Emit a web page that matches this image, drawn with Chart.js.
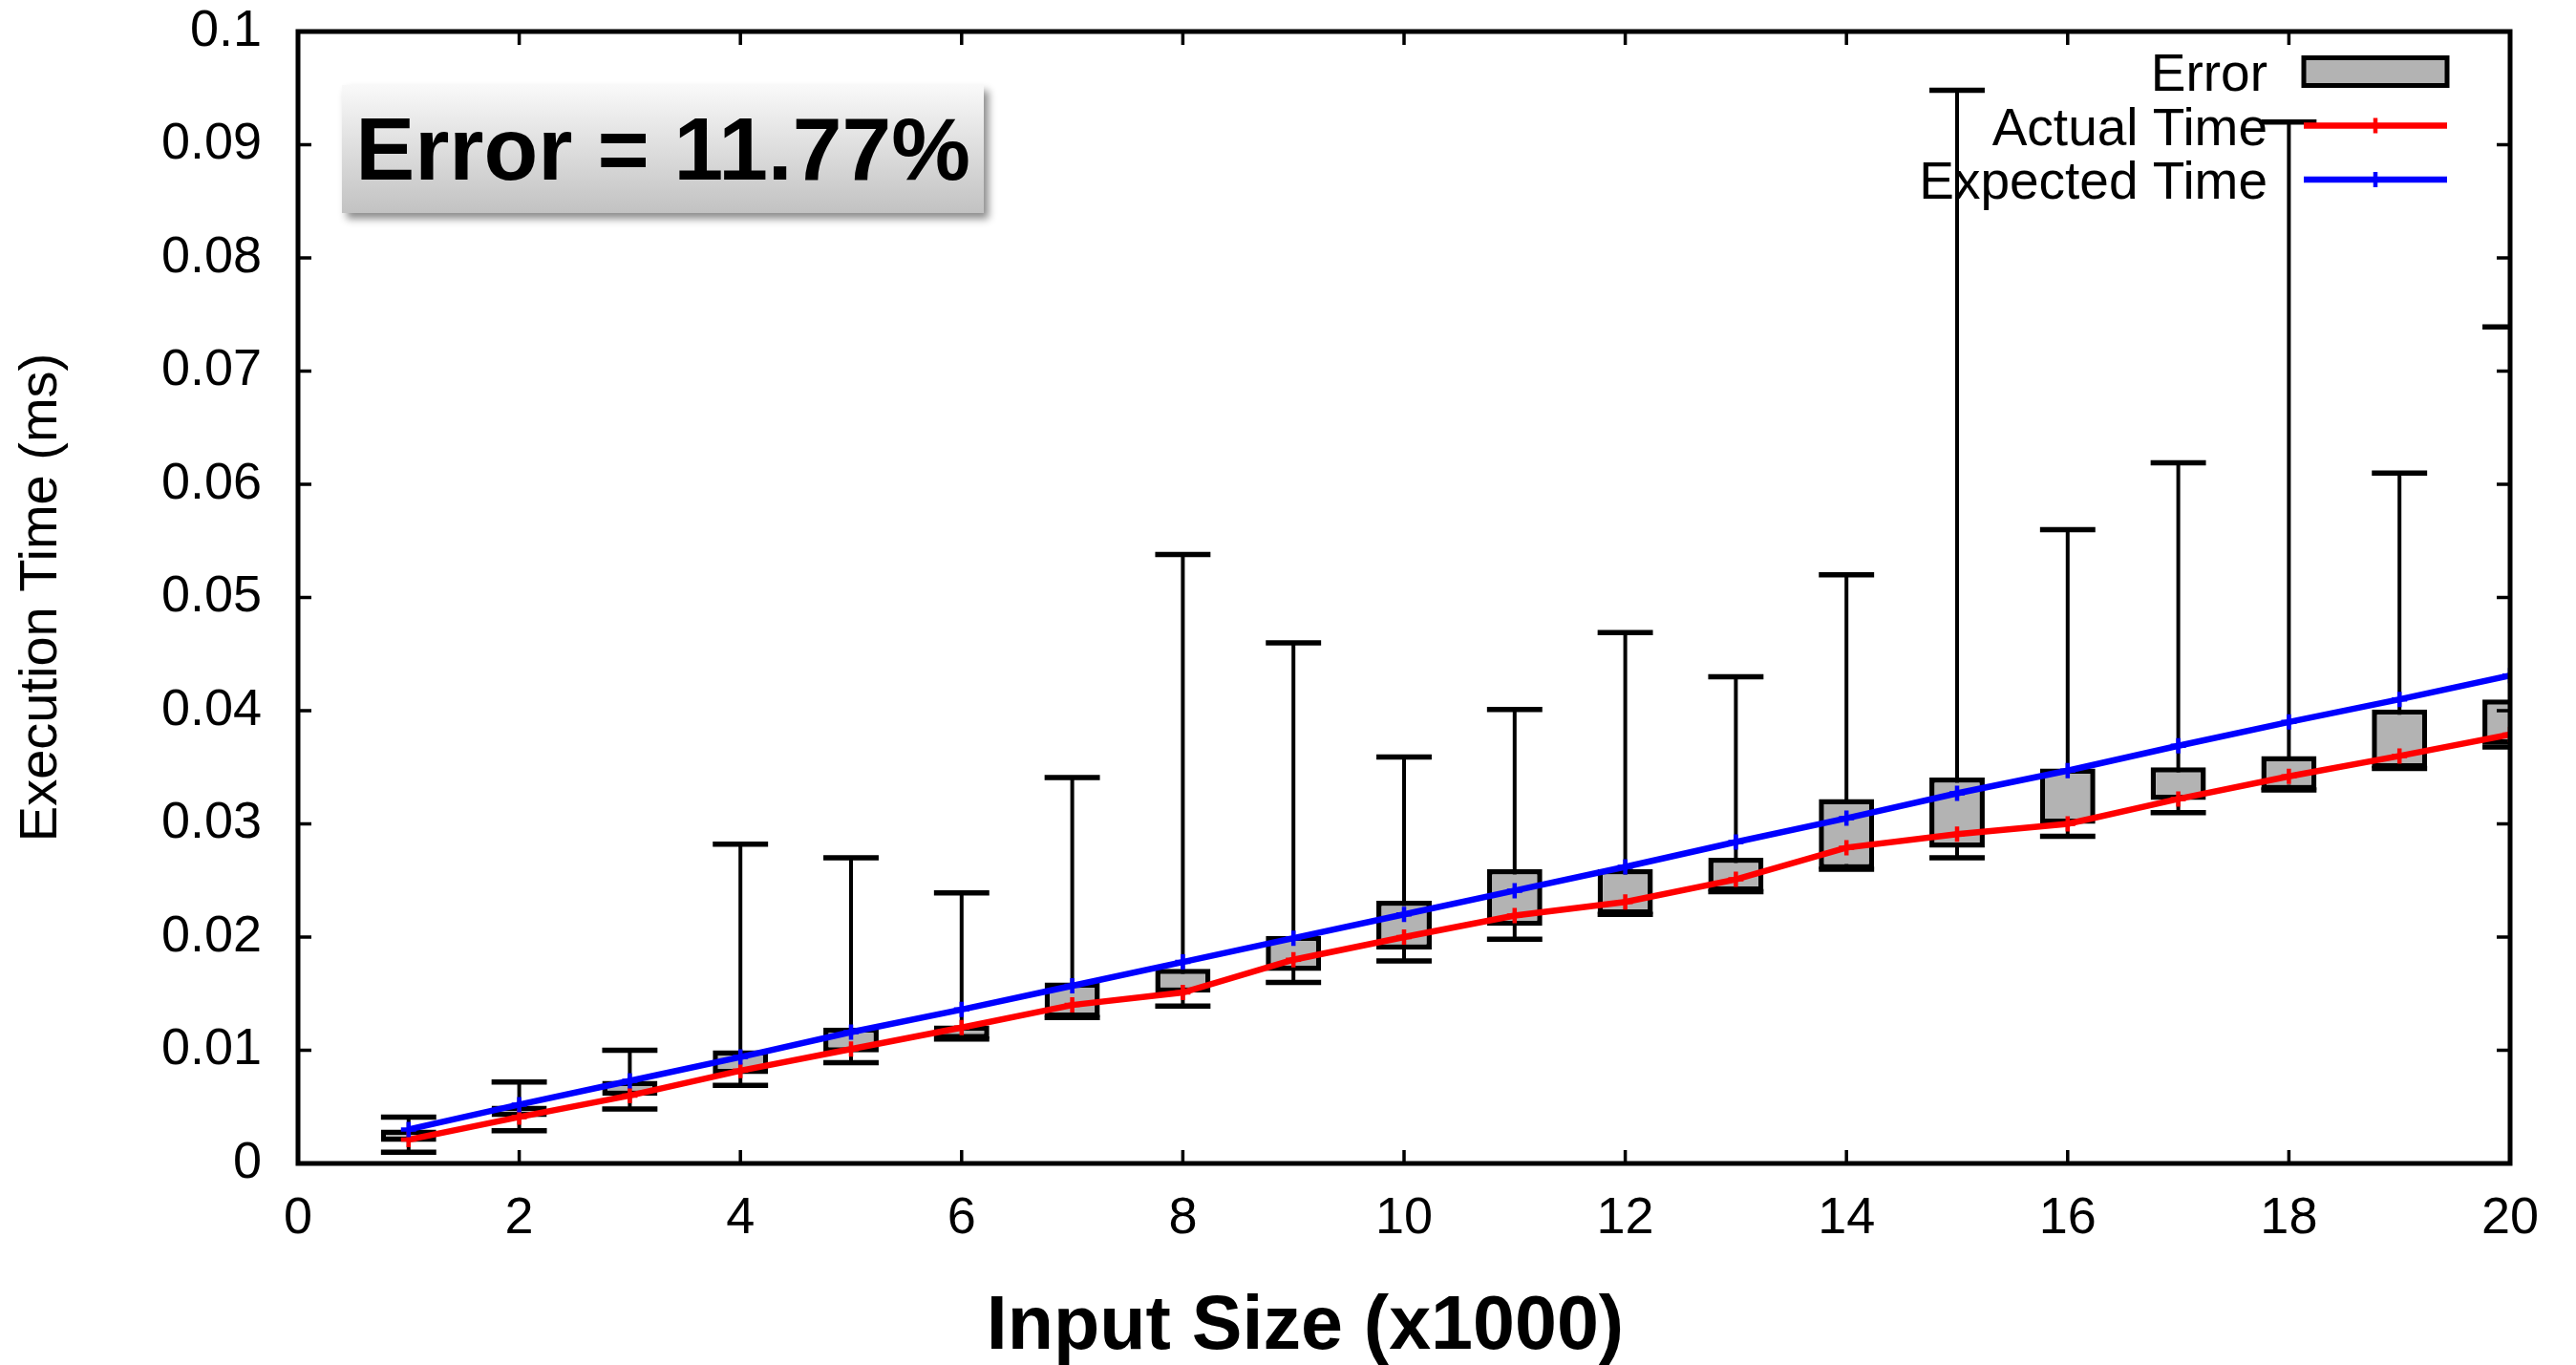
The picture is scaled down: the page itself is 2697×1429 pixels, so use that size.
<!DOCTYPE html>
<html>
<head>
<meta charset="utf-8">
<title>Execution Time vs Input Size</title>
<script src="https://cdn.jsdelivr.net/npm/chart.js"></script>
<style>
	body { margin: 0; background: #ffffff; }
	#wrap { position: relative; width: 2697px; height: 1429px; }
	#timeChart { display: block; }
	#errorBox {
		position: absolute; left: 358px; top: 89px; width: 672px; height: 134px;
		background: linear-gradient(#f9f9f9, #c2c2c2);
		box-shadow: 5px 6px 8px rgba(0, 0, 0, 0.45);
		font: bold 93px "Liberation Sans", Arial, sans-serif;
		color: #000000;
		display: flex; align-items: center; justify-content: center;
	}
</style>
</head>
<body>
<div id="wrap">
	<canvas id="timeChart" width="2697" height="1429"></canvas>
	<div id="errorBox">Error = 11.77%</div>
</div>
<script>
//input size (x1000)
const inputSizes = [1, 2, 3, 4, 5, 6, 7, 8, 9, 10, 11, 12, 13, 14, 15, 16, 17, 18, 19, 20];

//error boxes (ms)
const boxLow  = [0.0019, 0.0041, 0.0060, 0.0079, 0.0098, 0.0110, 0.0129, 0.0151, 0.0170, 0.0189,
                 0.0210, 0.0220, 0.0240, 0.0260, 0.0279, 0.0300, 0.0321, 0.0330, 0.0349, 0.0370];
const boxHigh = [0.0030, 0.0051, 0.0073, 0.0100, 0.0120, 0.0122, 0.0160, 0.0172, 0.0201, 0.0232,
                 0.0260, 0.0260, 0.0270, 0.0322, 0.0341, 0.0349, 0.0350, 0.0360, 0.0401, 0.0410];

//whiskers (ms)
const whiskerLow  = [0.0010, 0.0029, 0.0048, 0.0069, 0.0089, 0.0110, 0.0129, 0.0139, 0.0160, 0.0179,
                     0.0198, 0.0220, 0.0240, 0.0260, 0.0270, 0.0289, 0.0310, 0.0330, 0.0349, 0.0368];
const whiskerHigh = [0.0041, 0.0072, 0.0100, 0.0282, 0.0270, 0.0239, 0.0341, 0.0538, 0.0460, 0.0359,
                     0.0401, 0.0469, 0.0430, 0.0520, 0.0948, 0.0560, 0.0619, 0.0920, 0.0610, 0.0739];

//lines (ms)
const actualTime   = [0.0021, 0.0041, 0.0060, 0.0082, 0.0101, 0.0120, 0.0140, 0.0151, 0.0180, 0.0200,
                      0.0219, 0.0231, 0.0251, 0.0279, 0.0291, 0.0300, 0.0322, 0.0342, 0.0360, 0.0379];
const expectedTime = [0.0030, 0.0052, 0.0073, 0.0094, 0.0116, 0.0136, 0.0157, 0.0178, 0.0199, 0.0220,
                      0.0241, 0.0262, 0.0284, 0.0305, 0.0327, 0.0347, 0.0369, 0.0390, 0.0410, 0.0431];

//axes
const xTitle = "Input Size (x1000)";
const yTitle = "Execution Time (ms)";

const fontName = '"Liberation Sans", Arial, Helvetica, sans-serif';

//whiskers go under the boxes
const whiskerPlugin = {
	id: 'whiskers',
	beforeDatasetsDraw(chart) {
		let ctx = chart.ctx;
		let area = chart.chartArea;
		let xScale = chart.scales.x;
		let yScale = chart.scales.y;
		let boxMeta = chart.getDatasetMeta(0);
		ctx.save();
		ctx.beginPath();
		ctx.rect(area.left, area.top, area.right - area.left, area.bottom - area.top);
		ctx.clip();
		ctx.strokeStyle = '#000000';
		for (let i = 0; i < inputSizes.length; i++) {
			let x = xScale.getPixelForValue(inputSizes[i]);
			let half = boxMeta.data[i].width / 2;
			let yLow = yScale.getPixelForValue(whiskerLow[i]);
			let yHigh = yScale.getPixelForValue(whiskerHigh[i]);
			ctx.lineWidth = 4;
			ctx.beginPath();
			ctx.moveTo(x, yLow);
			ctx.lineTo(x, yHigh);
			ctx.stroke();
			ctx.lineWidth = 5.5;
			ctx.beginPath();
			ctx.moveTo(x - half, yLow);
			ctx.lineTo(x + half, yLow);
			ctx.moveTo(x - half, yHigh);
			ctx.lineTo(x + half, yHigh);
			ctx.stroke();
		}
		ctx.restore();
	}
};

//border on four sides with inward ticks (gnuplot look)
const framePlugin = {
	id: 'frame',
	afterDatasetsDraw(chart) {
		let ctx = chart.ctx;
		let a = chart.chartArea;
		let xScale = chart.scales.x;
		let yScale = chart.scales.y;
		let tickLen = 14;
		ctx.save();
		ctx.strokeStyle = '#000000';
		ctx.lineWidth = 3.5;
		ctx.beginPath();
		xScale.ticks.forEach(t => {
			let x = xScale.getPixelForValue(t.value);
			ctx.moveTo(x, a.bottom);
			ctx.lineTo(x, a.bottom - tickLen);
			ctx.moveTo(x, a.top);
			ctx.lineTo(x, a.top + tickLen);
		});
		yScale.ticks.forEach(t => {
			let y = yScale.getPixelForValue(t.value);
			ctx.moveTo(a.left, y);
			ctx.lineTo(a.left + tickLen, y);
			ctx.moveTo(a.right, y);
			ctx.lineTo(a.right - tickLen, y);
		});
		ctx.stroke();
		ctx.lineWidth = 5;
		ctx.strokeRect(a.left, a.top, a.right - a.left, a.bottom - a.top);
		ctx.restore();
	}
};

//key in the top right corner: label first, sample after
const keyPlugin = {
	id: 'gnuKey',
	afterDatasetsDraw(chart) {
		let ctx = chart.ctx;
		let a = chart.chartArea;
		let textRight = a.right - 254;
		let sampleLeft = a.right - 216;
		let sampleRight = a.right - 66;
		ctx.save();
		ctx.font = '55px ' + fontName;
		ctx.textAlign = 'right';
		ctx.textBaseline = 'alphabetic';
		chart.data.datasets.forEach((ds, i) => {
			let rowY = a.top + 42 + i * 56.5;
			ctx.fillStyle = '#000000';
			ctx.fillText(ds.label, textRight, rowY + 20);
			if (ds.type === 'bar') {
				ctx.fillStyle = ds.backgroundColor;
				ctx.fillRect(sampleLeft, rowY - 14.5, sampleRight - sampleLeft, 29);
				ctx.strokeStyle = '#000000';
				ctx.lineWidth = 5;
				ctx.strokeRect(sampleLeft, rowY - 14.5, sampleRight - sampleLeft, 29);
			} else {
				let mid = (sampleLeft + sampleRight) / 2;
				ctx.strokeStyle = ds.borderColor;
				ctx.lineWidth = ds.borderWidth;
				ctx.beginPath();
				ctx.moveTo(sampleLeft, rowY);
				ctx.lineTo(sampleRight, rowY);
				ctx.stroke();
				ctx.lineWidth = ds.pointBorderWidth;
				ctx.beginPath();
				ctx.moveTo(mid, rowY - ds.pointRadius);
				ctx.lineTo(mid, rowY + ds.pointRadius);
				ctx.moveTo(mid - ds.pointRadius, rowY);
				ctx.lineTo(mid + ds.pointRadius, rowY);
				ctx.stroke();
			}
		});
		ctx.restore();
	}
};

//x title sits a bit left of the plot centre in the original
const xTitlePlugin = {
	id: 'xTitle',
	afterDraw(chart) {
		let ctx = chart.ctx;
		ctx.save();
		ctx.font = 'bold 79px ' + fontName;
		ctx.fillStyle = '#000000';
		ctx.textAlign = 'center';
		ctx.textBaseline = 'alphabetic';
		ctx.fillText(xTitle, chart.width / 2 + 18, chart.height - 17);
		ctx.restore();
	}
};

let boxData = inputSizes.map((x, i) => ({x: x, y: [boxLow[i], boxHigh[i]]}));
let actualData = inputSizes.map((x, i) => ({x: x, y: actualTime[i]}));
let expectedData = inputSizes.map((x, i) => ({x: x, y: expectedTime[i]}));

let ctxChart = document.getElementById("timeChart").getContext('2d');
let timeChart = new Chart(ctxChart, {
	type: 'line',
	data: {
		datasets: [{
			type: 'bar',
			label: 'Error',
			data: boxData,
			backgroundColor: '#b3b3b3',
			borderColor: '#000000',
			borderWidth: 5.5,
			borderSkipped: false,
			barPercentage: 0.5,
			categoryPercentage: 1.0,
			clip: 0,
			order: 2
		}, {
			type: 'line',
			label: 'Actual Time',
			data: actualData,
			borderColor: '#ff0000',
			backgroundColor: '#ff0000',
			borderWidth: 6.5,
			pointStyle: 'cross',
			pointRadius: 8,
			pointBorderWidth: 4.5,
			tension: 0,
			order: 1
		}, {
			type: 'line',
			label: 'Expected Time',
			data: expectedData,
			borderColor: '#0000ff',
			backgroundColor: '#0000ff',
			borderWidth: 6.5,
			pointStyle: 'cross',
			pointRadius: 8,
			pointBorderWidth: 4.5,
			tension: 0,
			order: 0
		}]
	},
	options: {
		responsive: false,
		devicePixelRatio: 1,
		animation: false,
		layout: {
			padding: {top: 33, right: 69, left: 0, bottom: 0}
		},
		plugins: {
			legend: {display: false},
			tooltip: {enabled: false}
		},
		scales: {
			x: {
				type: 'linear',
				min: 0,
				max: 20,
				offset: false,
				grid: {display: false, drawTicks: false, offset: false},
				border: {display: false},
				ticks: {
					stepSize: 2,
					padding: 26,
					color: '#000000',
					font: {family: fontName, size: 54}
				},
				afterFit: function(scale) {
					scale.height = 211;
					scale.paddingLeft = 0;
					scale.paddingRight = 0;
				}
			},
			y: {
				type: 'linear',
				min: 0,
				max: 0.1,
				grid: {display: false, drawTicks: false},
				border: {display: false},
				ticks: {
					stepSize: 0.01,
					padding: 38,
					color: '#000000',
					font: {family: fontName, size: 54},
					callback: function(value) { return String(+value.toFixed(2)); }
				},
				title: {
					display: true,
					text: yTitle,
					color: '#000000',
					padding: {top: 10, bottom: 0},
					font: {family: fontName, size: 56}
				},
				afterFit: function(scale) {
					scale.width = 312;
					scale.paddingTop = 0;
					scale.paddingBottom = 0;
				}
			}
		}
	},
	plugins: [whiskerPlugin, framePlugin, keyPlugin, xTitlePlugin]
});
</script>
</body>
</html>
